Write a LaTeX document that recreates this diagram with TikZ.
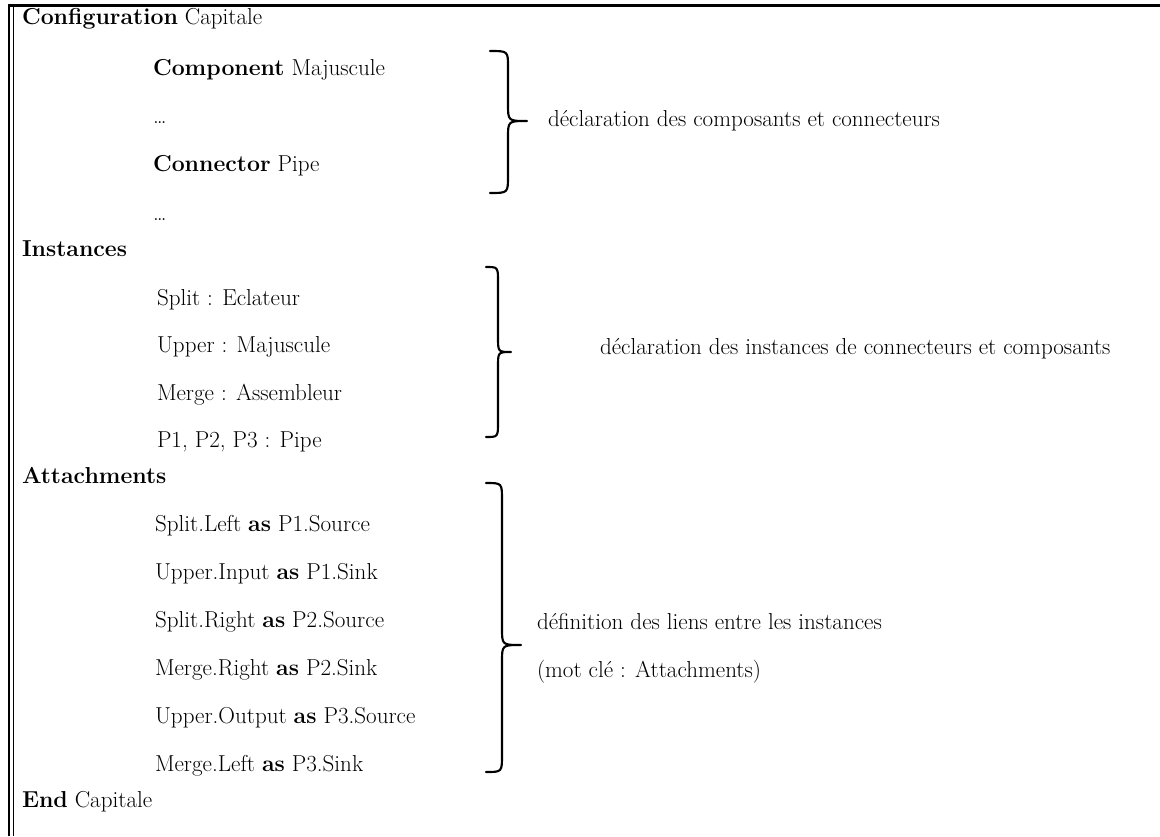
\documentclass[tikz,border=0pt]{standalone}
\begin{document}
\begin{tikzpicture}[x=0.75pt,y=-0.75pt,
  txt/.style={anchor=base west,inner sep=0pt,outer sep=0pt,font=\fontsize{17.3}{20}\selectfont},
  brc/.style={line width=1.6pt,line cap=round,line join=round},
  frame/.style={line width=1.9pt,line join=miter},
  thin/.style={line width=0.8pt}]
\useasboundingbox (0,0) rectangle (1160,836);

% page frame: double rule on the left, heavy rule on top
\draw[frame] (9,836) -- (9,5.5) -- (1160,5.5);
\draw[thin] (13.5,7) -- (13.5,836);

% configuration header and declarations
\node[txt] (conf) at (22,24) {\textbf{Configuration} Capitale};
\node[txt] (comp) at (153,75) {\textbf{Component} Majuscule};
\node[txt] (dots1) at (153,123) {\ldots};
\node[txt] (conn) at (153,171) {\textbf{Connector} Pipe};
\node[txt] (dots2) at (153,220) {\ldots};

% instances
\node[txt] (inst) at (22,256) {\textbf{Instances}};
\node[txt] (split) at (157,305) {Split : Eclateur};
\node[txt] (upper) at (157,352) {Upper : Majuscule};
\node[txt] (merge) at (157,400) {Merge : Assembleur};
\node[txt] (pipes) at (157,447) {P1, P2, P3 : Pipe};

% attachments
\node[txt] (att) at (22,483) {\textbf{Attachments}};
\node[txt] (a1) at (155,531) {Split.Left \textbf{as} P1.Source};
\node[txt] (a2) at (155,579) {Upper.Input \textbf{as} P1.Sink};
\node[txt] (a3) at (155,627) {Split.Right \textbf{as} P2.Source};
\node[txt] (a4) at (155,675) {Merge.Right \textbf{as} P2.Sink};
\node[txt] (a5) at (155,723) {Upper.Output \textbf{as} P3.Source};
\node[txt] (a6) at (155,771) {Merge.Left \textbf{as} P3.Sink};
\node[txt] (endc) at (22,807) {\textbf{End} Capitale};

% braces
\draw[brc] (490,51) .. controls (508,51) .. (508,67) -- (508,104)
  .. controls (508,121) .. (527,121) .. controls (508,121) .. (508,138)
  -- (508,176) .. controls (508,193) .. (490,193);
\draw[brc] (486,267) .. controls (498,267) .. (498,282) -- (498,337)
  .. controls (498,352) .. (511,352) .. controls (498,352) .. (498,367)
  -- (498,422) .. controls (498,437) .. (486,437);
\draw[brc] (486,483) .. controls (502,483) .. (502,500) -- (502,628)
  .. controls (502,645) .. (521,645) .. controls (502,645) .. (502,662)
  -- (502,755) .. controls (502,772) .. (486,772);

% brace labels
\node[txt] (l1) at (548,126) {déclaration des composants et connecteurs};
\node[txt] (l2) at (600,354) {déclaration des instances de connecteurs et composants};
\node[txt] (l3) at (537,629) {définition des liens entre les instances};
\node[txt] (l4) at (537,677) {(mot clé : Attachments)};
\end{tikzpicture}
\end{document}
